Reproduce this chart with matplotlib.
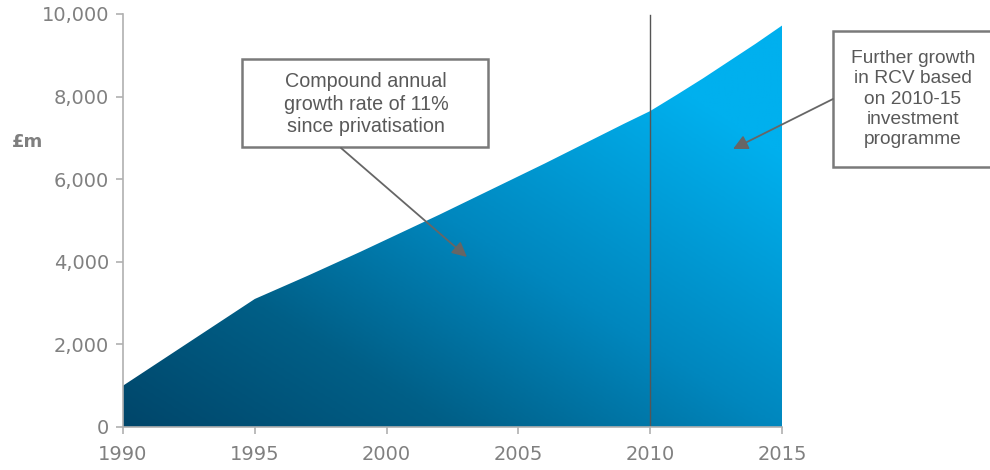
import numpy as np
import matplotlib
matplotlib.use("Agg")
import matplotlib.pyplot as plt
from matplotlib.patches import Rectangle, FancyArrowPatch
from matplotlib.colors import LinearSegmentedColormap

years = list(range(1990, 2016))
rcv = [1000, 1420, 1840, 2260, 2680, 3100, 3380, 3660, 3950, 4240, 4540,
       4840, 5140, 5450, 5760, 6070, 6380, 6700, 7020, 7340, 7650,
       8040, 8440, 8860, 9280, 9720]
xticks = [1990, 1995, 2000, 2005, 2010, 2015]
yticks = [0, 2000, 4000, 6000, 8000, 10000]
divider_year = 2010
note1 = "Compound annual\ngrowth rate of 11%\nsince privatisation"
note2 = "Further growth\nin RCV based\non 2010-15\ninvestment\nprogramme"
unit_label = "£m"

W, H = 990, 470
fig = plt.figure(figsize=(W / 100, H / 100), dpi=100)

def fx(px):
    return px / W

def fy(py):
    return 1 - py / H

ax = fig.add_axes([fx(123), fy(427), fx(782) - fx(123), fy(14) - fy(427)])
ax.set_xlim(1990, 2015)
ax.set_ylim(0, 10000)

# gradient fill
poly = ax.fill_between(years, rcv, 0, color="none", lw=0)
nx, ny = 400, 300
u = np.linspace(0, 1, nx)
v = np.linspace(0, 1, ny)
U, V = np.meshgrid(u, v)
t = np.clip(0.6 * U + 0.6 * V, 0, 1)
cmap = LinearSegmentedColormap.from_list(
    "g", [(0.0, "#00466a"), (0.3, "#005f87"), (0.6, "#0087be"), (1.0, "#00b0ee")])
im = ax.imshow(t, cmap=cmap, origin="lower", extent=[1990, 2015, 0, 10000],
               aspect="auto", vmin=0, vmax=1, zorder=1, interpolation="bilinear")
path = poly.get_paths()[0]
im.set_clip_path(path, transform=ax.transData)

ax.plot([divider_year, divider_year], [0, 9980], color="#555555", lw=1, zorder=3)

for s in ["top", "right"]:
    ax.spines[s].set_visible(False)
for s in ["left", "bottom"]:
    ax.spines[s].set_color("#b0b0b0")
    ax.spines[s].set_linewidth(1.2)
    ax.spines[s].set_zorder(4)

ax.set_xticks(xticks)
ax.set_yticks(yticks)
ax.set_xticklabels([str(x) for x in xticks])
ax.set_yticklabels([f"{y:,}" for y in yticks])
ax.tick_params(axis="both", colors="#b0b0b0", labelcolor="#808080",
               labelsize=14, length=5, width=1.2, direction="out")
ax.tick_params(axis="x", pad=8)
ax.tick_params(axis="y", pad=5)
for lab in ax.get_xticklabels() + ax.get_yticklabels():
    lab.set_fontfamily("DejaVu Sans")

fig.text(fx(12), fy(142), unit_label, ha="left", va="center", fontsize=13,
         fontweight="bold", color="#7f7f7f", family="DejaVu Sans")

# annotation boxes
box_kw = dict(facecolor="white", edgecolor="#7a7a7a", lw=1.8,
              transform=fig.transFigure, zorder=5)
r1 = Rectangle((fx(242), fy(147)), fx(488) - fx(242), fy(59) - fy(147), **box_kw)
r2 = Rectangle((fx(833), fy(167)), fx(994) - fx(833), fy(31) - fy(167), **box_kw)
fig.add_artist(r1)
fig.add_artist(r2)
fig.text(fx(366), fy(104), note1, ha="center", va="center", fontsize=14.2,
         color="#595959", family="Liberation Sans", linespacing=1.25, zorder=6)
fig.text(fx(913), fy(99), note2, ha="center", va="center", fontsize=13.8,
         color="#595959", family="Liberation Sans", linespacing=1.25, zorder=6)

arrow_kw = dict(arrowstyle="-|>,head_length=0.8,head_width=0.4", color="#666666",
                lw=1.3, shrinkA=0, shrinkB=0, mutation_scale=11)
fig.add_artist(FancyArrowPatch(
    (fx(341), fy(148)), (fx(467), fy(257)), transform=fig.transFigure,
    zorder=6, **arrow_kw))
fig.add_artist(FancyArrowPatch(
    (fx(833), fy(99)), (fx(733), fy(149)), transform=fig.transFigure,
    zorder=6, **arrow_kw))

fig.savefig("out.png", dpi=100)
